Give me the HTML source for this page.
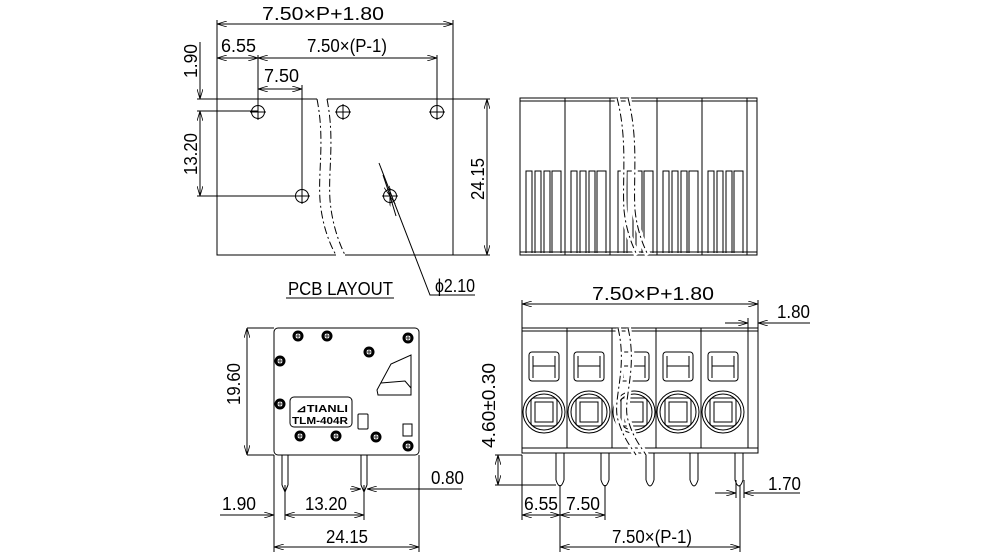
<!DOCTYPE html>
<html><head><meta charset="utf-8"><style>
html,body{margin:0;padding:0;background:#fff}
svg{display:block}
text{font-family:"Liberation Sans",sans-serif;fill:#000}
.d{font-family:"Liberation Sans",sans-serif;font-size:18px}
</style></head><body>
<svg width="990" height="552" viewBox="0 0 990 552" xmlns="http://www.w3.org/2000/svg">
<defs>
<marker id="a" viewBox="0 0 10 6" refX="10" refY="3" markerWidth="10" markerHeight="6" orient="auto-start-reverse" markerUnits="userSpaceOnUse"><path d="M0,0L10,3L0,6" fill="none" stroke="#000" stroke-width="0.8"/></marker>
<g id="s"><circle cx="0" cy="0" r="5.5" fill="#000"/><circle cx="0" cy="0" r="2.6" fill="#fff"/><path d="M-3,0H3M0,-3V3" stroke="#000" stroke-width="0.8"/></g>
</defs>
<g stroke="#000" stroke-width="1" fill="none">
<!-- PCB layout -->
<path d="M317,99H217V255H336M345,255H453V99H327"/>
<path d="M317,99C325,140 318,170 320,200C322,225 330,245 336,255M327,99C335,140 328,170 330,200C332,225 340,245 345,255" stroke-dasharray="8,3,2,3"/>
<path d="M453,99H490M453,255H490M217,20V99M453,20V99M258,55V111M437,55V111M302,85V196M197,99H217M197,111H258M197,196H302"/>
<line x1="217" y1="24" x2="453" y2="24" marker-start="url(#a)" marker-end="url(#a)"/>
<line x1="217" y1="58" x2="258" y2="58" marker-start="url(#a)" marker-end="url(#a)"/>
<line x1="258" y1="58" x2="437" y2="58" marker-start="url(#a)" marker-end="url(#a)"/>
<line x1="258" y1="89" x2="302" y2="89" marker-start="url(#a)" marker-end="url(#a)"/>
<line x1="200" y1="42" x2="200" y2="99" marker-end="url(#a)"/>
<line x1="200" y1="111" x2="200" y2="196" marker-start="url(#a)" marker-end="url(#a)"/>
<line x1="487" y1="99" x2="487" y2="255" marker-start="url(#a)" marker-end="url(#a)"/>
<path d="M379,163L430,295H475"/>
<line x1="383" y1="175" x2="390" y2="196" marker-end="url(#a)"/>
<line x1="396" y1="216" x2="390" y2="196" marker-end="url(#a)"/>
<path d="M286,298H394"/>
<g>
<circle cx="258" cy="112" r="6.5"/><path d="M250,112h16M258,104v16"/>
<circle cx="343" cy="112" r="6.5"/><path d="M335,112h16M343,104v16"/>
<circle cx="437" cy="112" r="6.5"/><path d="M429,112h16M437,104v16"/>
<circle cx="302" cy="196" r="6.5"/><path d="M294,196h16M302,188v16"/>
<circle cx="390" cy="196" r="6.5"/><path d="M382,196h16M390,188v16"/>
</g>
<!-- top right view -->
<path d="M520,98H757V255H520ZM520,101H757M520,252H757M565,98V255M610,98V255M657,98V255M702,98V255M747,98V255"/>
<g id="sl">
<path d="M526,253V171H532V253M535,253V171H541V253M544,253V171H550V253M552,253V171H561V253"/>
</g>
<use href="#sl" x="45"/><use href="#sl" x="92"/><use href="#sl" x="137"/><use href="#sl" x="182"/>
<path d="M617,98C628,140 622,180 624,210C626,230 632,245 637,255M628,98C639,140 633,180 635,210C637,230 643,245 648,255" stroke="#fff" stroke-width="6"/>
<path d="M617,98C628,140 622,180 624,210C626,230 632,245 637,255M628,98C639,140 633,180 635,210C637,230 643,245 648,255" stroke-dasharray="8,3,2,3"/>
<!-- side view -->
<rect x="274" y="328" width="145" height="127" rx="4"/>
<path d="M247,328H274M247,455H274"/>
<line x1="247" y1="328" x2="247" y2="455" marker-start="url(#a)" marker-end="url(#a)"/>
<rect x="290" y="397" width="62" height="30" rx="4"/>
<rect x="358" y="414" width="10" height="15" rx="1"/>
<rect x="403" y="424" width="9" height="12"/>
<path d="M377,390L391,364L411,355V395H378ZM381,383L405,381L411,388"/>
<path d="M282,455V485M288,455V485M282,485L285,492L288,485M361,455V485M367,455V485M361,485L364,492L367,485"/>
<path d="M274,455V552M419,455V552M285,485V520M364,485V520"/>
<line x1="220" y1="515" x2="274" y2="515" marker-end="url(#a)"/>
<line x1="285" y1="515" x2="364" y2="515" marker-start="url(#a)" marker-end="url(#a)"/>
<line x1="274" y1="547" x2="419" y2="547" marker-start="url(#a)" marker-end="url(#a)"/>
<line x1="350" y1="489" x2="361" y2="489" marker-end="url(#a)"/>
<line x1="462" y1="489" x2="367" y2="489" marker-end="url(#a)"/>
<!-- front view -->
<path d="M522,328H758V453H522ZM522,331H758M522,448H758M567,328V448M612,328V448M656,328V448M701,328V448M748,328V448"/>
<g id="p">
<rect x="529" y="352" width="30" height="29" rx="3"/>
<path d="M533,356V378M555,356V378M533,366H555"/>
<circle cx="544" cy="412" r="21"/><circle cx="544" cy="412" r="18"/>
<rect x="531" y="398" width="26" height="28" rx="3"/>
<path d="M535,402H553V422H535Z"/>
<path d="M556,453V480M564,453V480M556,480Q560,492 564,480"/>
</g>
<use href="#p" x="45"/><use href="#p" x="90"/><use href="#p" x="134"/><use href="#p" x="179"/>
<path d="M618,328C628,370 612,400 618,420C624,440 632,448 636,455M628,328C638,370 622,400 628,420C634,440 642,448 646,455" stroke="#fff" stroke-width="6"/>
<path d="M618,328C628,370 612,400 618,420C624,440 632,448 636,455M628,328C638,370 622,400 628,420C634,440 642,448 646,455" stroke-dasharray="8,3,2,3"/>
<path d="M522,300V328M758,300V328M748,318V328M495,455H522M495,485H556M522,455V520M560,485V552M605,485V520M740,485V552M736,480V498M744,480V498"/>
<line x1="522" y1="304" x2="758" y2="304" marker-start="url(#a)" marker-end="url(#a)"/>
<line x1="725" y1="323" x2="748" y2="323" marker-end="url(#a)"/>
<line x1="810" y1="323" x2="758" y2="323" marker-end="url(#a)"/>
<line x1="498" y1="455" x2="498" y2="485" marker-start="url(#a)" marker-end="url(#a)"/>
<line x1="522" y1="515" x2="560" y2="515" marker-start="url(#a)" marker-end="url(#a)"/>
<line x1="560" y1="515" x2="605" y2="515" marker-start="url(#a)" marker-end="url(#a)"/>
<line x1="560" y1="547" x2="740" y2="547" marker-start="url(#a)" marker-end="url(#a)"/>
<line x1="715" y1="493" x2="736" y2="493" marker-end="url(#a)"/>
<line x1="800" y1="493" x2="744" y2="493" marker-end="url(#a)"/>
<path d="M760,323H810M760,493H800"/>
</g>
<use href="#s" x="298" y="336"/><use href="#s" x="327" y="336"/><use href="#s" x="408" y="338"/>
<use href="#s" x="369" y="352"/><use href="#s" x="280" y="361"/><use href="#s" x="280" y="404"/>
<use href="#s" x="300" y="436"/><use href="#s" x="336" y="436"/><use href="#s" x="376" y="437"/><use href="#s" x="408" y="446"/>
<text x="296" y="412" font-size="10" font-weight="bold" textLength="52" lengthAdjust="spacingAndGlyphs">⊿TIANLI</text>
<text x="292" y="424" font-size="10" font-weight="bold" textLength="56" lengthAdjust="spacingAndGlyphs">TLM-404R</text>
<g class="d">
<text x="262" y="20" textLength="122" lengthAdjust="spacingAndGlyphs">7.50×P+1.80</text>
<text x="221" y="52" textLength="35" lengthAdjust="spacingAndGlyphs">6.55</text>
<text x="307" y="52" textLength="80" lengthAdjust="spacingAndGlyphs">7.50×(P-1)</text>
<text x="264" y="82" textLength="35" lengthAdjust="spacingAndGlyphs">7.50</text>
<text x="288" y="295" textLength="105" lengthAdjust="spacingAndGlyphs">PCB LAYOUT</text>
<text x="435" y="292" textLength="40" lengthAdjust="spacingAndGlyphs">ϕ2.10</text>
<text transform="translate(197,78) rotate(-90)" textLength="34" lengthAdjust="spacingAndGlyphs">1.90</text>
<text transform="translate(197,175) rotate(-90)" textLength="42" lengthAdjust="spacingAndGlyphs">13.20</text>
<text transform="translate(484,200) rotate(-90)" textLength="42" lengthAdjust="spacingAndGlyphs">24.15</text>
<text transform="translate(240,405) rotate(-90)" textLength="42" lengthAdjust="spacingAndGlyphs">19.60</text>
<text x="222" y="510" textLength="34" lengthAdjust="spacingAndGlyphs">1.90</text>
<text x="305" y="510" textLength="42" lengthAdjust="spacingAndGlyphs">13.20</text>
<text x="431" y="484" textLength="33" lengthAdjust="spacingAndGlyphs">0.80</text>
<text x="326" y="543" textLength="42" lengthAdjust="spacingAndGlyphs">24.15</text>
<text x="592" y="300" textLength="122" lengthAdjust="spacingAndGlyphs">7.50×P+1.80</text>
<text x="777" y="318" textLength="33" lengthAdjust="spacingAndGlyphs">1.80</text>
<text transform="translate(495,448) rotate(-90)" textLength="85" lengthAdjust="spacingAndGlyphs">4.60±0.30</text>
<text x="524" y="510" textLength="34" lengthAdjust="spacingAndGlyphs">6.55</text>
<text x="566" y="510" textLength="34" lengthAdjust="spacingAndGlyphs">7.50</text>
<text x="612" y="543" textLength="80" lengthAdjust="spacingAndGlyphs">7.50×(P-1)</text>
<text x="768" y="490" textLength="33" lengthAdjust="spacingAndGlyphs">1.70</text>
</g>
</svg>
</body></html>
